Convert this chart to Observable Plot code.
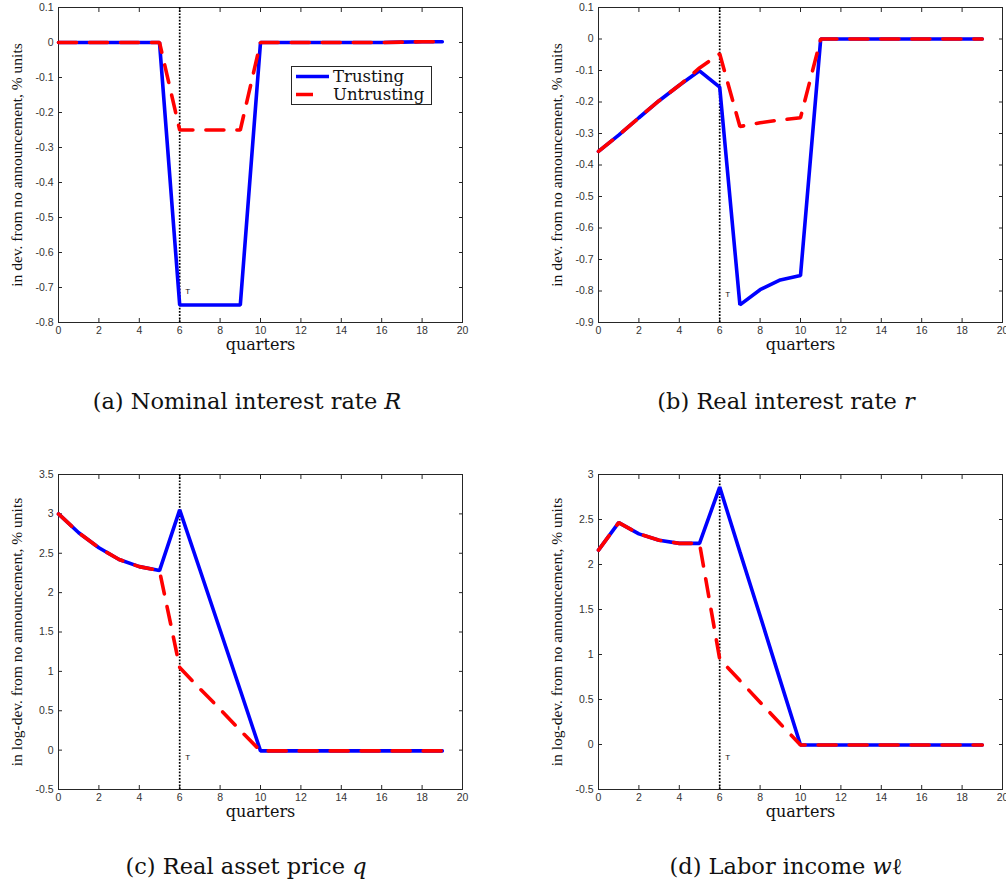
<!DOCTYPE html>
<html><head><meta charset="utf-8">
<script src="https://cdn.jsdelivr.net/npm/d3@7"></script>
<script src="https://cdn.jsdelivr.net/npm/@observablehq/plot@0.6"></script>
<style>
body{margin:0;background:#fff;}
#root{position:relative;width:1006px;height:889px;overflow:hidden;background:#fff;}
.panel{position:absolute;}
.cap{position:absolute;font-family:"DejaVu Serif";font-size:22.5px;color:#111;white-space:nowrap;transform:translate(-50%,-50%);}
</style></head><body><div id="root"></div>
<script>
// ---- data ----
const quarters = [0,1,2,3,4,5,6,7,8,9,10,11,12,13,14,15,16,17,18,19];
const seriesNames = ["Trusting", "Untrusting"];
const shockQuarter = 6;
const xTicks = [0,2,4,6,8,10,12,14,16,18,20];

const nominalTrusting   = [0,0,0,0,0,0,-0.75,-0.75,-0.75,-0.75,0,0,0,0,0,0,0,0.001,0.002,0.002];
const nominalUntrusting = [0,0,0,0,0,0,-0.25,-0.25,-0.25,-0.25,0,0,0,0,0,0,0,0.001,0.002,0.002];

const realRateTrusting   = [-0.357,-0.305,-0.25,-0.196,-0.147,-0.101,-0.153,-0.844,-0.796,-0.765,-0.751,0,0,0,0,0,0,0,0,0];
const realRateUntrusting = [-0.357,-0.305,-0.25,-0.196,-0.147,-0.092,-0.047,-0.278,-0.266,-0.257,-0.25,0,0,0,0,0,0,0,0,0];

const assetTrusting   = [3.0,2.76,2.57,2.42,2.33,2.28,3.05,2.29,1.525,0.76,-0.01,-0.01,-0.01,-0.01,-0.01,-0.01,-0.01,-0.01,-0.01,-0.01];
const assetUntrusting = [3.0,2.76,2.57,2.42,2.33,2.28,1.05,0.78,0.52,0.25,-0.01,-0.01,-0.01,-0.01,-0.01,-0.01,-0.01,-0.01,-0.01,-0.01];

const laborTrusting   = [2.16,2.465,2.34,2.27,2.235,2.235,2.86,2.14,1.43,0.71,-0.005,-0.005,-0.005,-0.005,-0.005,-0.005,-0.005,-0.005,-0.005,-0.005];
const laborUntrusting = [2.16,2.465,2.34,2.27,2.235,2.235,0.95,0.71,0.47,0.23,-0.005,-0.005,-0.005,-0.005,-0.005,-0.005,-0.005,-0.005,-0.005,-0.005];

const yTicksA = [0.1,0,-0.1,-0.2,-0.3,-0.4,-0.5,-0.6,-0.7,-0.8];
const yTicksB = [0.1,0,-0.1,-0.2,-0.3,-0.4,-0.5,-0.6,-0.7,-0.8,-0.9];
const yTicksC = [3.5,3,2.5,2,1.5,1,0.5,0,-0.5];
const yTicksD = [3,2.5,2,1.5,1,0.5,0,-0.5];

const yLabelDev = "in dev. from no announcement, % units";
const yLabelLogDev = "in log-dev. from no announcement, % units";
const xLabel = "quarters";
const shockLabel = "T";
const captions = [
  "(a) Nominal interest rate <i>R</i>",
  "(b) Real interest rate <i>r</i>",
  "(c) Real asset price <i>q</i>",
  "(d) Labor income <i>w</i>\u2113"
];

// ---- drawing ----
const root = document.getElementById("root");
const fmt = d => String(+(+d).toFixed(2));

function panel({left, top, trust, untrust, yTicks, yLabel, tY}) {
  const yDomain = [d3.min(yTicks), d3.max(yTicks)];
  const tickStyle = {fontSize: 10.5, fontFamily: "Liberation Sans, Arial, sans-serif", fill: "#333", stroke: "#262626", label: null};
  const p = Plot.plot({
    width: 470, height: 362,
    marginLeft: 58, marginRight: 8, marginTop: 7, marginBottom: 40,
    style: {background: "transparent", overflow: "visible"},
    x: {domain: [0, 20]},
    y: {domain: yDomain},
    marks: [
      Plot.axisX(xTicks, {...tickStyle, anchor: "bottom", tickSize: -4, tickPadding: 8, tickFormat: fmt}),
      Plot.axisX(xTicks, {...tickStyle, anchor: "top", tickSize: -4, tickFormat: () => ""}),
      Plot.axisY(yTicks, {...tickStyle, anchor: "left", tickSize: -4, tickPadding: 9, tickFormat: fmt}),
      Plot.axisY(yTicks, {...tickStyle, anchor: "right", tickSize: -4, tickFormat: () => ""}),
      Plot.frame({stroke: "#262626", strokeWidth: 1}),
      Plot.ruleX([shockQuarter], {stroke: "#000", strokeWidth: 1.7, strokeDasharray: "1.7,1.5"}),
      Plot.line(quarters, {x: (d, i) => quarters[i], y: (d, i) => trust[i], stroke: "#0000ff", strokeWidth: 3.6, strokeLinejoin: "miter", curve: "linear"}),
      Plot.line(quarters, {x: (d, i) => quarters[i], y: (d, i) => untrust[i], stroke: "#ff0000", strokeWidth: 3.6, strokeDasharray: "18,13", strokeLinejoin: "miter", curve: "linear"}),
      Plot.text([shockLabel], {x: () => shockQuarter, y: () => tY, dx: 8, fontSize: 8, fontFamily: "Liberation Sans, Arial, sans-serif", fill: "#111"}),
      Plot.text([xLabel], {frameAnchor: "bottom", lineAnchor: "middle", dy: 22, fontSize: 16, fontFamily: "DejaVu Serif", fill: "#111"}),
      Plot.text([yLabel], {frameAnchor: "left", textAnchor: "middle", lineAnchor: "middle", rotate: -90, dx: -41, fontSize: 15.5, fontFamily: "Liberation Serif, serif", fill: "#111"})
    ]
  });
  p.classList.add("panel");
  p.style.left = (left - 58) + "px";
  p.style.top = (top - 7) + "px";
  root.appendChild(p);
}

panel({left: 58, top: 7, trust: nominalTrusting, untrust: nominalUntrusting, yTicks: yTicksA, yLabel: yLabelDev, tY: -0.71});
panel({left: 598, top: 7, trust: realRateTrusting, untrust: realRateUntrusting, yTicks: yTicksB, yLabel: yLabelDev, tY: -0.81});
panel({left: 58, top: 474, trust: assetTrusting, untrust: assetUntrusting, yTicks: yTicksC, yLabel: yLabelLogDev, tY: -0.09});
panel({left: 598, top: 474, trust: laborTrusting, untrust: laborUntrusting, yTicks: yTicksD, yLabel: yLabelLogDev, tY: -0.14});

// legend inside panel (a)
const ns = "http://www.w3.org/2000/svg";
const leg = document.createElementNS(ns, "svg");
leg.setAttribute("width", 142); leg.setAttribute("height", 40);
leg.style.position = "absolute"; leg.style.left = "291px"; leg.style.top = "66px";
const colors = ["#0000ff", "#ff0000"];
const swatchLen = [33, 17];
let html = `<rect x="0.5" y="0.5" width="140" height="38" fill="#fff" stroke="#262626"/>`;
seriesNames.forEach((name, i) => {
  const y = 10.5 + i * 18;
  html += `<line x1="5" x2="${5 + swatchLen[i]}" y1="${y}" y2="${y}" stroke="${colors[i]}" stroke-width="3.5"/>`;
  html += `<text x="42" y="${y + 5.5}" font-family="DejaVu Serif" font-size="16.5" fill="#111">${name}</text>`;
});
leg.innerHTML = html;
root.appendChild(leg);

// captions
const capPos = [[247, 401], [786, 401], [246, 866], [786, 866]];
captions.forEach((c, i) => {
  const d = document.createElement("div");
  d.className = "cap";
  d.innerHTML = c;
  d.style.left = capPos[i][0] + "px";
  d.style.top = capPos[i][1] + "px";
  root.appendChild(d);
});
</script></body></html>
